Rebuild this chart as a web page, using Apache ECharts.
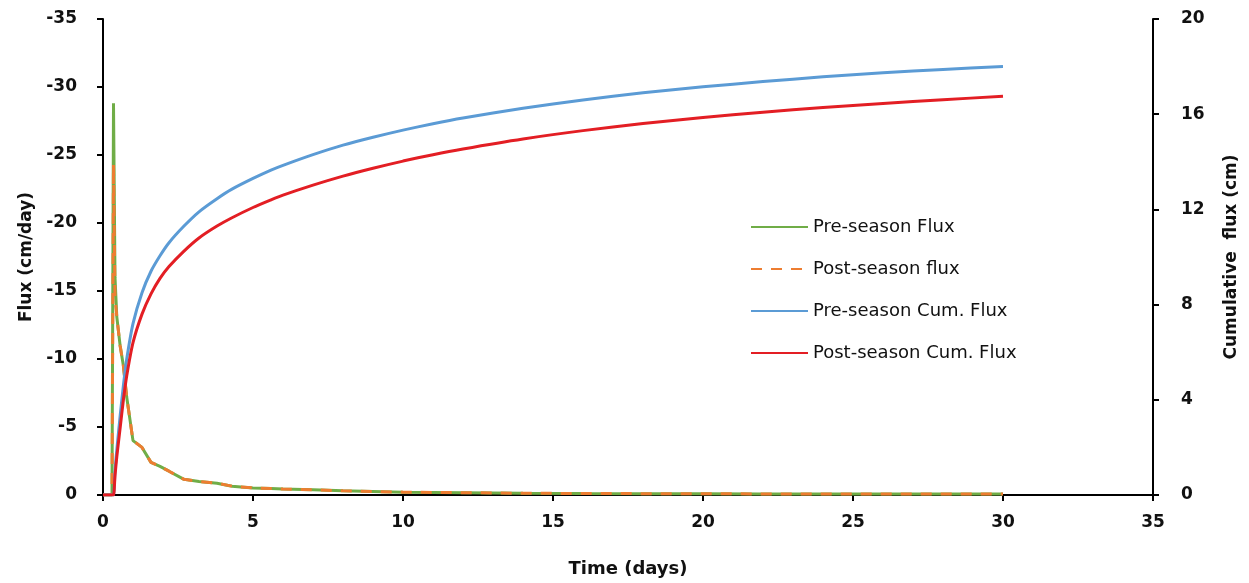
<!DOCTYPE html>
<html>
<head>
<meta charset="utf-8">
<script src="https://cdn.jsdelivr.net/npm/echarts@6/dist/echarts.min.js"></script>
<style>
html,body{margin:0;padding:0;background:#fff;}
#chart{width:1249px;height:583px;}
</style>
</head>
<body>
<div id="chart"></div>
<script>
// Time (days)
const time = [0, 0.3, 0.35, 0.4, 0.46, 0.57, 0.68, 0.79, 1.0, 1.3, 1.6, 1.9, 2.2, 2.7, 3.2, 3.8, 4.3, 5, 5.6, 6, 7, 8, 9, 10, 11, 12, 14, 16, 18, 20, 22, 24, 26, 28, 30];
// Flux (cm/day)
const preFlux  = [0, 0, -28.8, -16, -13.1, -11.0, -9.5, -7.2, -4.0, -3.5, -2.4, -2.1, -1.75, -1.15, -1.0, -0.86, -0.65, -0.52, -0.48, -0.44, -0.38, -0.31, -0.26, -0.21, -0.19, -0.17, -0.13, -0.11, -0.10, -0.09, -0.08, -0.08, -0.07, -0.07, -0.07];
const postFlux = [0, 0, -24.3, -14.5, -13.1, -11.0, -9.5, -7.2, -4.0, -3.5, -2.4, -2.1, -1.75, -1.15, -1.0, -0.86, -0.65, -0.52, -0.48, -0.44, -0.38, -0.31, -0.26, -0.21, -0.19, -0.17, -0.13, -0.11, -0.10, -0.09, -0.08, -0.08, -0.07, -0.07, -0.07];
// Cumulative flux (cm)
const preCum  = [0, 0, 0, 1.0, 1.9, 3.3, 4.6, 5.7, 7.2, 8.5, 9.4, 10.05, 10.6, 11.3, 11.9, 12.45, 12.85, 13.3, 13.65, 13.85, 14.3, 14.7, 15.03, 15.33, 15.6, 15.84, 16.25, 16.6, 16.9, 17.15, 17.37, 17.57, 17.74, 17.88, 18.0];
const postCum = [0, 0, 0, 0.8, 1.6, 2.8, 4.0, 5.0, 6.4, 7.6, 8.45, 9.1, 9.6, 10.25, 10.8, 11.3, 11.65, 12.08, 12.4, 12.6, 13.02, 13.4, 13.73, 14.03, 14.3, 14.54, 14.96, 15.31, 15.61, 15.86, 16.08, 16.28, 16.45, 16.61, 16.75];
const seriesNames = ['Pre-season Flux', 'Post-season flux', 'Pre-season Cum. Flux', 'Post-season Cum. Flux'];

const pairs = arr => time.map((t, i) => [t, arr[i]]);
const FONT = 'DejaVu Sans';
const labelStyle = {color: '#111', fontFamily: FONT, fontWeight: 'bold', fontSize: 17};
const nameStyle = {color: '#111', fontFamily: FONT, fontWeight: 'bold', fontSize: 17};
const axisLine = {show: true, lineStyle: {color: '#000', width: 2}};

const chart = echarts.init(document.getElementById('chart'));
chart.setOption({
  animation: false,
  backgroundColor: '#fff',
  grid: {left: 103, right: 96, top: 19, bottom: 88, containLabel: false},
  legend: {
    orient: 'vertical', left: 750, top: 217, padding: 0,
    itemWidth: 57, itemHeight: 20, itemGap: 22,
    itemStyle: {opacity: 0},
    textStyle: {fontFamily: FONT, fontSize: 18, color: '#111', lineHeight: 20},
    data: seriesNames
  },
  xAxis: {
    type: 'value', min: 0, max: 35, interval: 5,
    name: 'Time (days)', nameLocation: 'middle', nameGap: 65,
    nameTextStyle: Object.assign({}, nameStyle, {fontSize: 18}),
    axisLine: Object.assign({onZero: false}, axisLine),
    axisTick: {show: true, length: 6, lineStyle: {color: '#000', width: 2}},
    axisLabel: Object.assign({margin: 19}, labelStyle),
    splitLine: {show: false}
  },
  yAxis: [{
    type: 'value', min: -35, max: 0, interval: 5, inverse: true, position: 'left',
    name: 'Flux (cm/day)', nameLocation: 'middle', nameGap: 68, nameRotate: 90,
    nameTextStyle: nameStyle,
    axisLine: Object.assign({onZero: false}, axisLine),
    axisTick: {show: true, length: 6, lineStyle: {color: '#000', width: 2}},
    axisLabel: Object.assign({margin: 26}, labelStyle),
    splitLine: {show: false}
  }, {
    type: 'value', min: 0, max: 20, interval: 4, position: 'right',
    name: 'Cumulative  flux (cm)', nameLocation: 'middle', nameGap: 70, nameRotate: 90,
    nameTextStyle: nameStyle,
    axisLine: Object.assign({onZero: false}, axisLine),
    axisTick: {show: true, length: 6, lineStyle: {color: '#000', width: 2}},
    axisLabel: Object.assign({margin: 28}, labelStyle),
    splitLine: {show: false}
  }],
  series: [
    {name: seriesNames[0], type: 'line', yAxisIndex: 0, data: pairs(preFlux), symbol: 'none',
     lineStyle: {color: '#70AD47', width: 3}, itemStyle: {color: '#70AD47'}},
    {name: seriesNames[1], type: 'line', yAxisIndex: 0, data: pairs(postFlux), symbol: 'none',
     lineStyle: {color: '#ED7D31', width: 3, type: [11, 9]}, itemStyle: {color: '#ED7D31'}},
    {name: seriesNames[2], type: 'line', yAxisIndex: 1, data: pairs(preCum), symbol: 'none', smooth: 0.25,
     lineStyle: {color: '#5B9BD5', width: 3}, itemStyle: {color: '#5B9BD5'}},
    {name: seriesNames[3], type: 'line', yAxisIndex: 1, data: pairs(postCum), symbol: 'none', smooth: 0.25,
     lineStyle: {color: '#E31E24', width: 3}, itemStyle: {color: '#E31E24'}}
  ]
});
</script>
</body>
</html>
